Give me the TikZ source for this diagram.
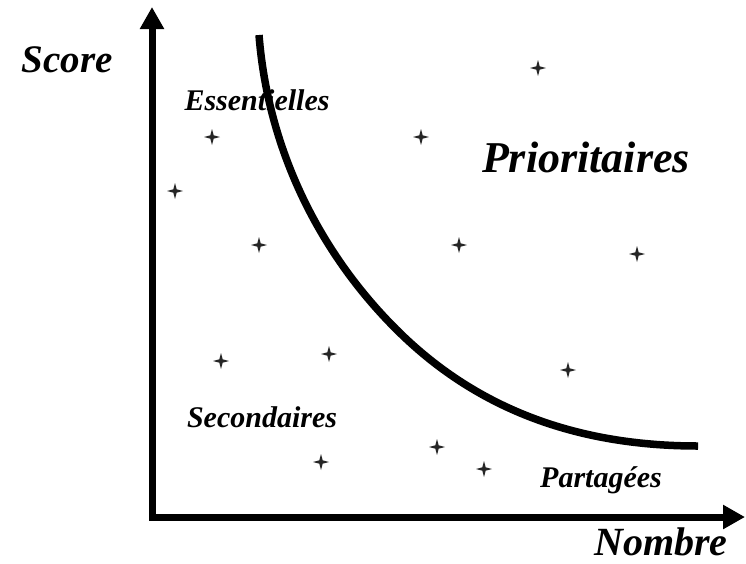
\documentclass[tikz,border=0pt]{standalone}
\usepackage{fontspec}
\setmainfont{Liberation Serif}
\usetikzlibrary{arrows.meta}

\tikzset{
  zone/.style={font=\bfseries\itshape\fontsize{30}{36}\selectfont, anchor=base, inner sep=0pt},
  axis/.style={line width=7pt, {Triangle[width=23pt,length=22pt]}-{Triangle[width=23pt,length=22pt]}},
  sparkle/.pic={\fill[black!85] (0,-8) -- (1.7,-1.7) -- (8,0) -- (1.7,1.7) -- (0,8)
      -- (-1.7,1.7) -- (-8,0) -- (-1.7,-1.7) -- cycle;}
}

\begin{document}
\begin{tikzpicture}[x=1pt,y=-1pt]
  \useasboundingbox (0,0) rectangle (746,563);

  % Axes
  \coordinate (ytip) at (152,7);
  \coordinate (xtip) at (745,517);
  \draw[axis] (ytip) |- (xtip);

  % Frontier curve
  \coordinate (top) at (259,35);
  \coordinate (mid) at (400,333);
  \coordinate (end) at (698,446);
  \draw[line width=7.5pt] (top) .. controls (268,150) and (320,255) .. (mid)
    .. controls (480,411) and (580,446) .. (end);

  % Items
  \foreach \x/\y in {538/68, 212/137, 421/137, 175/191, 259/245, 459/245, 637/254,
                     221/361, 329/354, 568/370, 437/447, 321/462, 484/469}
    \pic at (\x,\y) {sparkle};

  % Labels
  \node[zone, font=\bfseries\itshape\fontsize{39}{44}\selectfont] (score) at (67,72) {Score};
  \node[zone, font=\bfseries\itshape\fontsize{40}{46}\selectfont] (nombre) at (661,555) {Nombre};
  \node[zone] (essentielles) at (257,110) {Essentielles};
  \node[zone, font=\bfseries\itshape\fontsize{44}{50}\selectfont] (prioritaires) at (586,172) {Prioritaires};
  \node[zone] (secondaires) at (262,427) {Secondaires};
  \node[zone] (partagees) at (601,487) {Partagées};
\end{tikzpicture}
\end{document}
